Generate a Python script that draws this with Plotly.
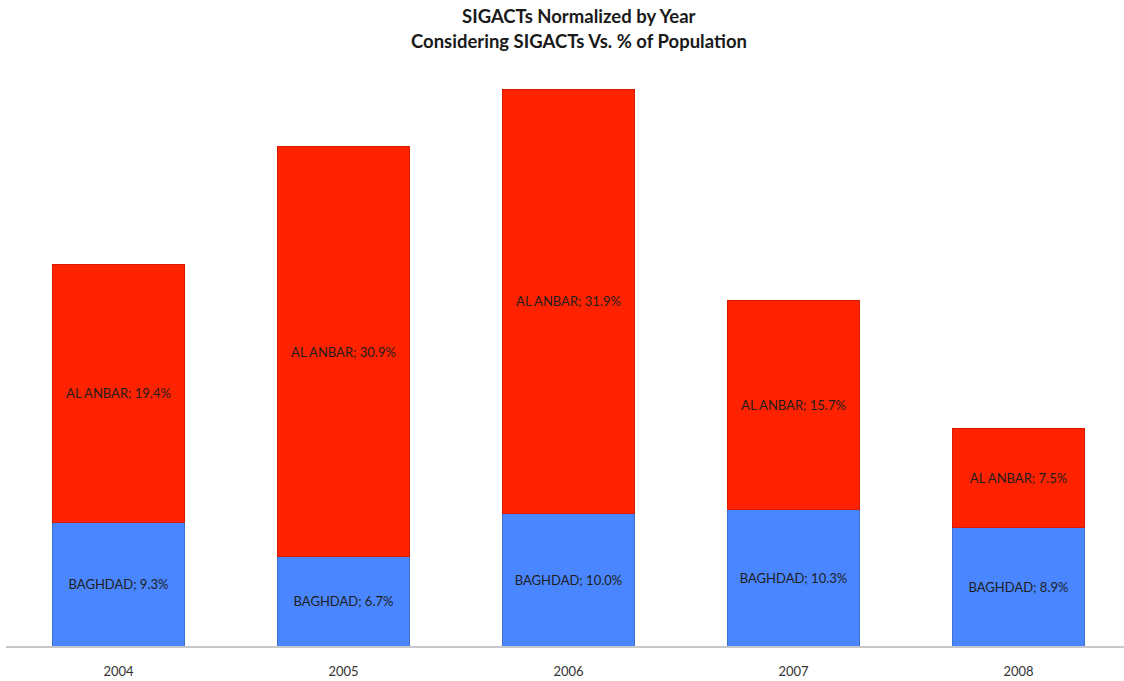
import plotly.graph_objects as go

years = ["2004", "2005", "2006", "2007", "2008"]
baghdad = [9.3, 6.7, 10.0, 10.3, 8.9]
al_anbar = [19.4, 30.9, 31.9, 15.7, 7.5]
title_lines = ["SIGACTs Normalized by Year", "Considering SIGACTs Vs. % of Population"]

font_family = "Lato, Open Sans, sans-serif"
label_font = dict(family=font_family, size=13, color="#1e1e1e")

fig = go.Figure()
fig.add_trace(go.Bar(
    x=years, y=baghdad, name="BAGHDAD",
    text=[f"BAGHDAD; {v:.1f}%" for v in baghdad],
    textposition="inside", insidetextanchor="middle", textangle=0,
    textfont=label_font,
    marker=dict(color="#4a86ff", line=dict(color="#3f6fd0", width=1)),
    width=0.59,
))
fig.add_trace(go.Bar(
    x=years, y=al_anbar, name="AL ANBAR",
    text=[f"AL ANBAR; {v:.1f}%" for v in al_anbar],
    textposition="inside", insidetextanchor="middle", textangle=0,
    textfont=label_font,
    marker=dict(color="#ff2200", line=dict(color="#d81c00", width=1)),
    width=0.59,
))

# two-line title placed as paper annotations
for i, line in enumerate(title_lines):
    fig.add_annotation(
        text=f"<b>{line}</b>", xref="paper", yref="paper",
        x=0.5125, y=1, yshift=44 - 25 * i, xanchor="center", yanchor="middle",
        showarrow=False,
        font=dict(family=font_family, size=18.5, color="#1a1a1a"),
    )

fig.update_layout(
    barmode="stack",
    width=1124, height=681,
    margin=dict(l=6, r=0, t=60, b=35),
    paper_bgcolor="white", plot_bgcolor="white",
    showlegend=False,
    xaxis=dict(
        type="category", range=[-0.5, 4.469],
        showline=True, linecolor="#c8c8c8", linewidth=2,
        ticks="", showgrid=False, ticklabelstandoff=12,
        tickfont=dict(family=font_family, size=13, color="#333333"),
    ),
    yaxis=dict(range=[0, 44.09], visible=False, showgrid=False),
)

fig.write_html("out.html")
